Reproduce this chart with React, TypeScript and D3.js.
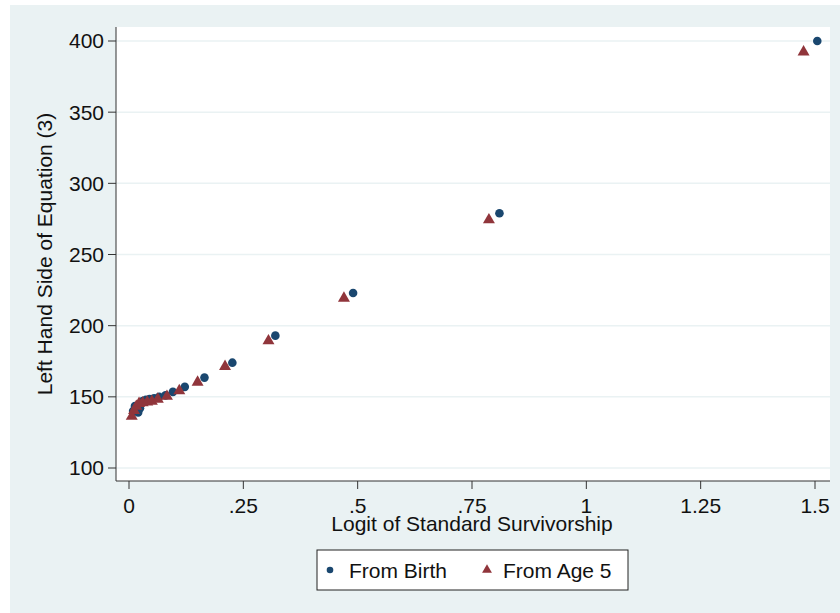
import * as d3 from 'd3';

const W = 840;
const H = 613;
const PLOT = { left: 116, right: 830, top: 27, bottom: 481 };

const xTicks = [0, 0.25, 0.5, 0.75, 1, 1.25, 1.5];
const xTickLabels = ['0', '.25', '.5', '.75', '1', '1.25', '1.5'];
const yTicks = [100, 150, 200, 250, 300, 350, 400];

// From Birth (blue circles)
const birthX = [0.009, 0.013, 0.02, 0.024, 0.03, 0.037, 0.045, 0.055, 0.066, 0.08, 0.096, 0.122, 0.165, 0.226, 0.32, 0.49, 0.81, 1.505];
const birthY = [140, 143.5, 139, 142, 147, 148, 148.5, 149, 150, 151, 153.5, 157, 163.5, 174, 193, 223, 279, 400];

// From Age 5 (red triangles)
const age5X = [0.006, 0.011, 0.016, 0.022, 0.03, 0.04, 0.05, 0.063, 0.083, 0.11, 0.15, 0.21, 0.305, 0.47, 0.787, 1.475];
const age5Y = [137, 141, 144, 146, 146.5, 147, 147.5, 149, 151, 155, 161, 172, 190, 220, 275, 393];

const BLUE = '#1a476f';
const RED = '#90353b';
const BG = '#eaf2f3';
const FONT = 'Liberation Sans, Arial, sans-serif';
const FS = 21;

export default function App() {
  const x = d3.scaleLinear().domain([0, 1.5]).range([129, 815]);
  const y = d3.scaleLinear().domain([100, 400]).range([468, 41]);
  const tri = d3.symbol().type(d3.symbolTriangle).size(62);
  const triLegend = d3.symbol().type(d3.symbolTriangle).size(42);

  return (
    <svg width={W} height={H} style={{ position: 'absolute', left: 0, top: 0 }} fontFamily={FONT}>
      <rect x={10} y={5} width={W - 10} height={H - 5} fill={BG} />
      <rect x={PLOT.left} y={PLOT.top} width={PLOT.right - PLOT.left} height={PLOT.bottom - PLOT.top} fill="#fff" />

      {/* grid */}
      {yTicks.map((t) => (
        <line key={'g' + t} x1={PLOT.left} x2={PLOT.right} y1={y(t)} y2={y(t)} stroke={BG} strokeWidth={1.5} />
      ))}

      {/* axes */}
      <line x1={PLOT.left} x2={PLOT.left} y1={PLOT.top} y2={PLOT.bottom} stroke="#333" strokeWidth={1} />
      <line x1={PLOT.left} x2={PLOT.right} y1={PLOT.bottom} y2={PLOT.bottom} stroke="#333" strokeWidth={1} />

      {yTicks.map((t) => (
        <g key={'y' + t}>
          <line x1={PLOT.left - 8} x2={PLOT.left} y1={y(t)} y2={y(t)} stroke="#333" />
          <text x={PLOT.left - 12} y={y(t)} dy="0.35em" textAnchor="end" fontSize={FS} fill="#111">{t}</text>
        </g>
      ))}
      {xTicks.map((t, i) => (
        <g key={'x' + t}>
          <line x1={x(t)} x2={x(t)} y1={PLOT.bottom} y2={PLOT.bottom + 8} stroke="#333" />
          <text x={x(t)} y={PLOT.bottom + 25} dy="0.35em" textAnchor="middle" fontSize={FS} fill="#111">{xTickLabels[i]}</text>
        </g>
      ))}

      <text x={472} y={524} dy="0.35em" textAnchor="middle" fontSize={FS} fill="#111">Logit of Standard Survivorship</text>
      <text transform={`translate(45,254) rotate(-90)`} dy="0.35em" textAnchor="middle" fontSize={FS} fill="#111">Left Hand Side of Equation (3)</text>

      {/* data */}
      {birthX.map((v, i) => (
        <circle key={'b' + i} cx={x(v)} cy={y(birthY[i])} r={4.3} fill={BLUE} />
      ))}
      {age5X.map((v, i) => (
        <path key={'a' + i} d={tri() ?? ''} transform={`translate(${x(v)},${y(age5Y[i]) + 1})`} fill={RED} />
      ))}

      {/* legend */}
      <rect x={317} y={550} width={311} height={40} fill="#fff" stroke="#222" strokeWidth={1} />
      <circle cx={330} cy={570} r={3.3} fill={BLUE} />
      <text x={349} y={571} dy="0.35em" textAnchor="start" fontSize={FS} fill="#111">From Birth</text>
      <path d={triLegend() ?? ''} transform="translate(487,570)" fill={RED} />
      <text x={503} y={571} dy="0.35em" textAnchor="start" fontSize={FS} fill="#111">From Age 5</text>
    </svg>
  );
}
